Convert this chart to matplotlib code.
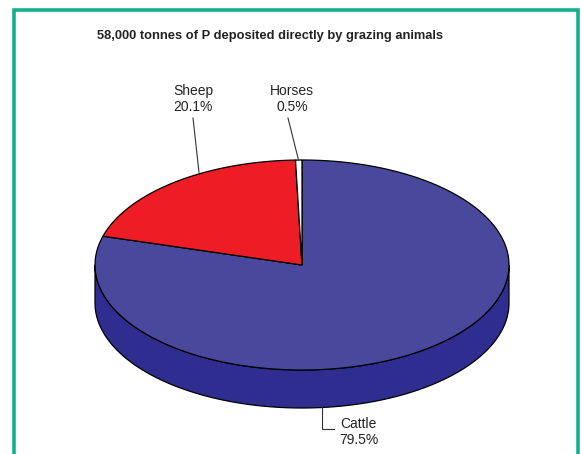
import numpy as np
import matplotlib.pyplot as plt
from matplotlib.patches import Polygon

plt.rcParams['font.family'] = ['Liberation Sans', 'DejaVu Sans']

animals = ['Cattle', 'Sheep', 'Horses']
shares = [79.5, 20.1, 0.5]
top_colors = ['#4a489c', '#ee1c24', '#ffffff']
side_colors = ['#2f2d8f', '#b3151b', '#dddddd']
title = '58,000 tonnes of P deposited directly by grazing animals'

# pie geometry in pixel space
cx, cy, rx, ry, depth = 302, 265, 207, 105, 38


def pt(t, dy=0):
    t = np.radians(t)
    return np.column_stack([cx + rx * np.cos(t), cy - ry * np.sin(t) + dy])


fig = plt.figure(figsize=(5.83, 4.54), dpi=100)
ax = fig.add_axes([0, 0, 1, 1])
ax.set_xlim(0, 583)
ax.set_ylim(454, 0)
ax.axis('off')

# frame, open at the bottom
ax.plot([14, 14, 578, 578], [460, 9.5, 9.5, 460], color='#14b08d', lw=2.6,
        solid_joinstyle='miter')

ax.text(270, 36, title, ha='center', va='center', fontsize=9.3,
        fontweight='bold', color='#222222')

# slice angles, clockwise from 12 o'clock
fracs = np.array(shares) / sum(shares)
ends = 90 - np.cumsum(fracs) * 360
starts = np.concatenate([[90], ends[:-1]])

# front wall: only the part with sin(t) < 0 is visible
for s, e, col in zip(starts, ends, side_colors):
    lo, hi = max(e, -180), min(s, 0)
    if lo < hi:
        t = np.linspace(lo, hi, 200)
        poly = np.vstack([pt(t), pt(t[::-1], depth)])
        ax.add_patch(Polygon(poly, closed=True, fc=col, ec='black', lw=0.9))

# top face
for s, e, col in zip(starts, ends, top_colors):
    t = np.linspace(e, s, 300)
    poly = np.vstack([[cx, cy], pt(t)])
    ax.add_patch(Polygon(poly, closed=True, fc=col, ec='black', lw=0.9,
                         joinstyle='miter'))

lab = [f'{a}\n{v:.1f}%' for a, v in zip(animals, shares)]
kw = dict(ha='center', va='center', fontsize=10, color='#222222',
          linespacing=1.25)

# cattle label below the wall
ax.plot([322, 322, 334], [pt(-84, depth)[0, 1], 429, 429], color='#333333', lw=0.8)
ax.text(358.5, 432, lab[0], **kw)

# sheep label
ax.plot([193, 199], [118, pt(118)[0, 1]], color='#333333', lw=0.8)
ax.text(193, 99, lab[1], **kw)

# horses label
ax.plot([288, 298.5], [118, 160], color='#333333', lw=0.8)
ax.text(292, 99, lab[2], **kw)

fig.savefig('out.png', dpi=100)
